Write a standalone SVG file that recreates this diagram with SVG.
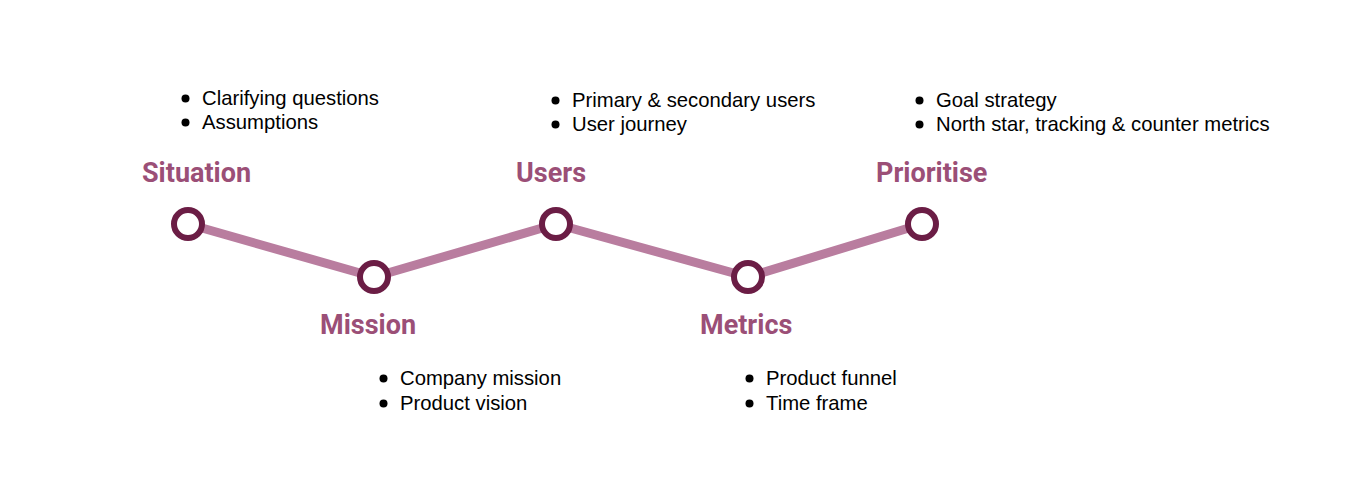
<svg xmlns="http://www.w3.org/2000/svg" width="1348" height="484" viewBox="0 0 1348 484">
<style>
.t{font-family:Roboto,"Liberation Sans",sans-serif;font-weight:700;font-size:27px;fill:#9b4f77}
.b{font-family:"Liberation Sans",Arial,sans-serif;font-size:20.3px;fill:#000}
.dot{fill:#000}
.n{fill:#fff;stroke:#6b1d45;stroke-width:6}
.c{fill:none;stroke:#b97d9f;stroke-width:9;stroke-linejoin:round}
</style>
<rect width="1348" height="484" fill="#fff"/>
<g id="connectors">
<polyline class="c" points="188,224 374,277 556,224 748,277 922,224"/>
</g>
<g id="situation">
<circle class="n" cx="188" cy="224" r="14"/>
<text class="t" x="142" y="182">Situation</text>
<circle class="dot" cx="185.5" cy="98.5" r="4"/>
<text class="b" x="202" y="105">Clarifying questions</text>
<circle class="dot" cx="185.5" cy="122.5" r="4"/>
<text class="b" x="202" y="129">Assumptions</text>
</g>
<g id="mission">
<circle class="n" cx="374" cy="277" r="14"/>
<text class="t" x="320" y="334">Mission</text>
<circle class="dot" cx="383.5" cy="378.5" r="4"/>
<text class="b" x="400" y="385">Company mission</text>
<circle class="dot" cx="383.5" cy="403.5" r="4"/>
<text class="b" x="400" y="410">Product vision</text>
</g>
<g id="users">
<circle class="n" cx="556" cy="224" r="14"/>
<text class="t" x="516" y="182">Users</text>
<circle class="dot" cx="555.5" cy="100.5" r="4"/>
<text class="b" x="572" y="107">Primary &amp; secondary users</text>
<circle class="dot" cx="555.5" cy="124.5" r="4"/>
<text class="b" x="572" y="131">User journey</text>
</g>
<g id="metrics">
<circle class="n" cx="748" cy="277" r="14"/>
<text class="t" x="700" y="334">Metrics</text>
<circle class="dot" cx="749.5" cy="378.5" r="4"/>
<text class="b" x="766" y="385">Product funnel</text>
<circle class="dot" cx="749.5" cy="403.5" r="4"/>
<text class="b" x="766" y="410">Time frame</text>
</g>
<g id="prioritise">
<circle class="n" cx="922" cy="224" r="14"/>
<text class="t" x="876" y="182">Prioritise</text>
<circle class="dot" cx="919.5" cy="100.5" r="4"/>
<text class="b" x="936" y="107">Goal strategy</text>
<circle class="dot" cx="919.5" cy="124.5" r="4"/>
<text class="b" x="936" y="131">North star, tracking &amp; counter metrics</text>
</g>
</svg>
